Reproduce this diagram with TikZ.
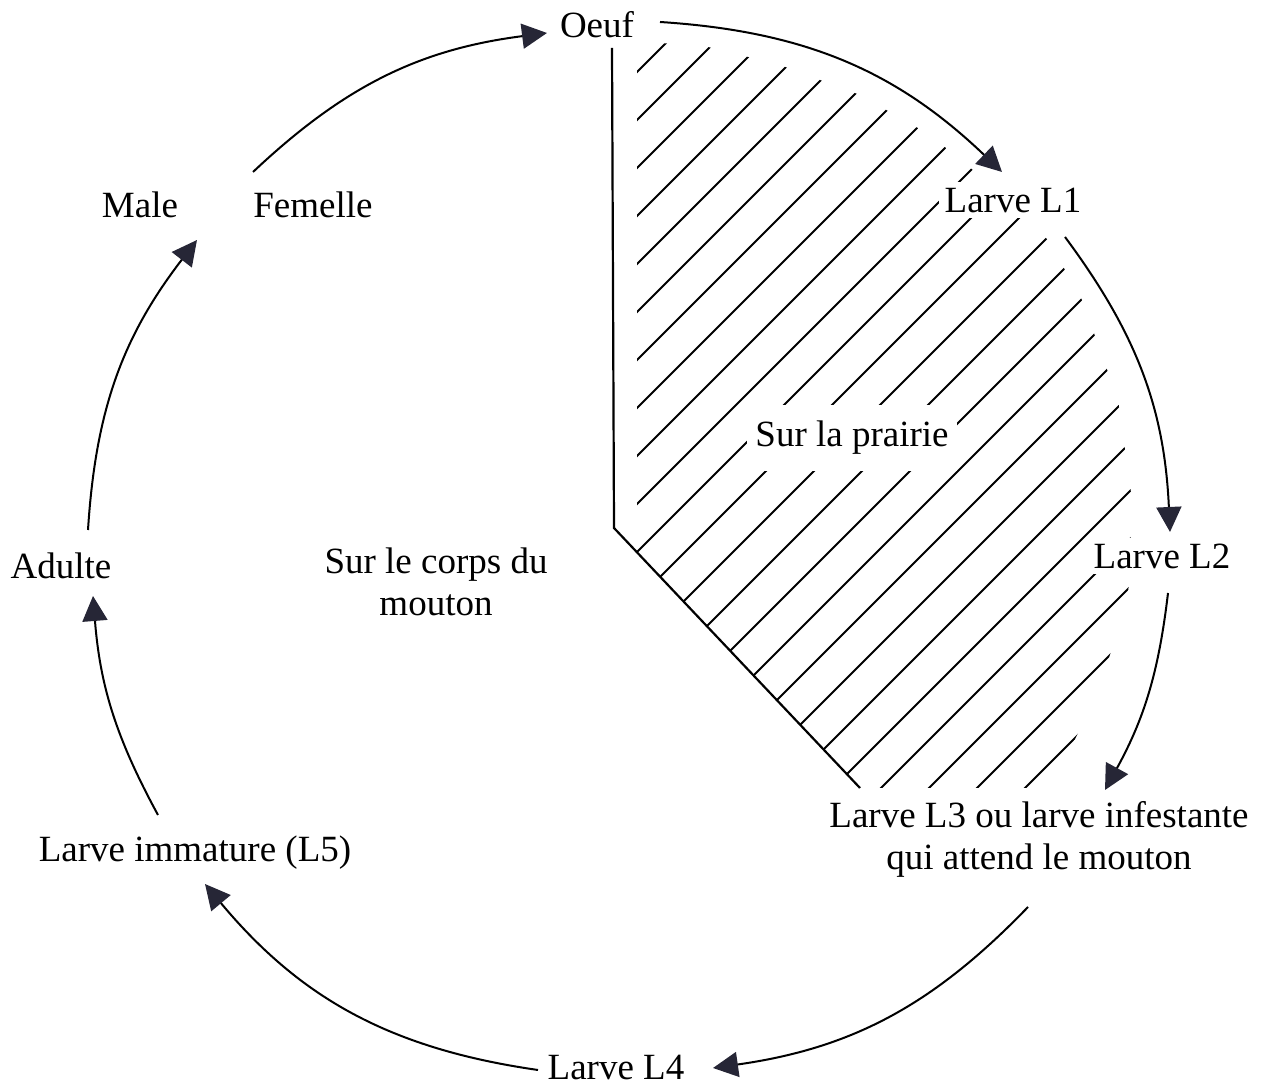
\documentclass[tikz,border=0pt]{standalone}
\usepackage{fontspec}
\setmainfont{Liberation Serif}
\usetikzlibrary{arrows.meta}
\definecolor{arrowc}{HTML}{262636}
\begin{document}
\begin{tikzpicture}[x=0.5pt,y=0.5pt,
  lbl/.style={font=\fontsize{18.5}{21}\selectfont, inner sep=1pt, align=center},
  arr/.style={line width=1pt, -{Triangle[length=12.5pt,width=12.5pt,fill=arrowc,color=arrowc]}},
  hatch/.style={line width=0.9pt},
  bound/.style={line width=1.1pt}]
\useasboundingbox (0,0) rectangle (1274,1086);

% hatched area (on the pasture)
\begin{scope}
\clip (637,1044) -- (637,533.7) -- (860,298) -- (1050,298) -- (1095,386) -- (1128,486) -- (1132,586) -- (1118,686) -- (1082,786) -- (1048,846) -- (985,906) -- (930,951) -- (860,991) -- (780,1021) -- (700,1041) -- cycle;
\foreach \k in {0,...,25} \draw[hatch] (500,{925-48*\k}) -- ++(800,800);
\end{scope}
\draw[bound] (612,1038) -- (614,558) -- (860,298);

% labels
\node[lbl] (oeuf) at (597,1061) {Oeuf};
\node[lbl,fill=white,inner sep=3pt] (l1) at (1013,886) {Larve L1};
\node[lbl,fill=white,inner sep=3pt] (l2) at (1162,530) {Larve L2};
\node[lbl] (l3) at (1039,247) {Larve L3 ou larve infestante\\qui attend le mouton};
\node[lbl] (l4) at (616,18) {Larve L4};
\node[lbl] (l5) at (195,233) {Larve immature (L5)};
\node[lbl] (adulte) at (61,520) {Adulte};
\node[lbl] (male) at (140,881) {Male};
\node[lbl] (femelle) at (313,881) {Femelle};
\node[lbl,fill=white,inner xsep=4pt,inner ysep=8pt] (prairie) at (852,648) {Sur la prairie};
\node[lbl] (corps) at (436,504) {Sur le corps du\\mouton};

% cycle arrows
\draw[arr] ([shift={(63,3)}]oeuf.center) to[bend left=20] ([shift={(-11,28)}]l1.center);
\draw[arr] ([shift={(52,-37)}]l1.center) to[bend left=17] ([shift={(8,24)}]l2.center);
\draw[arr] ([shift={(6,-37)}]l2.center) to[bend left=11] ([shift={(66,49)}]l3.center);
\draw[arr] ([shift={(-11,-68)}]l3.center) to[bend left=19] ([shift={(97,0)}]l4.center);
\draw[arr] ([shift={(-78,-2)}]l4.center) to[bend left=21] ([shift={(10,-31)}]l5.center);
\draw[arr] ([shift={(-37,38)}]l5.center) to[bend left=12] ([shift={(32,-30)}]adulte.center);
\draw[arr] ([shift={(27,36)}]adulte.center) to[bend left=17] ([shift={(57,-35)}]male.center);
\draw[arr] ([shift={(-60,33)}]femelle.center) to[bend left=18] ([shift={(-50,-8)}]oeuf.center);
\end{tikzpicture}
\end{document}
